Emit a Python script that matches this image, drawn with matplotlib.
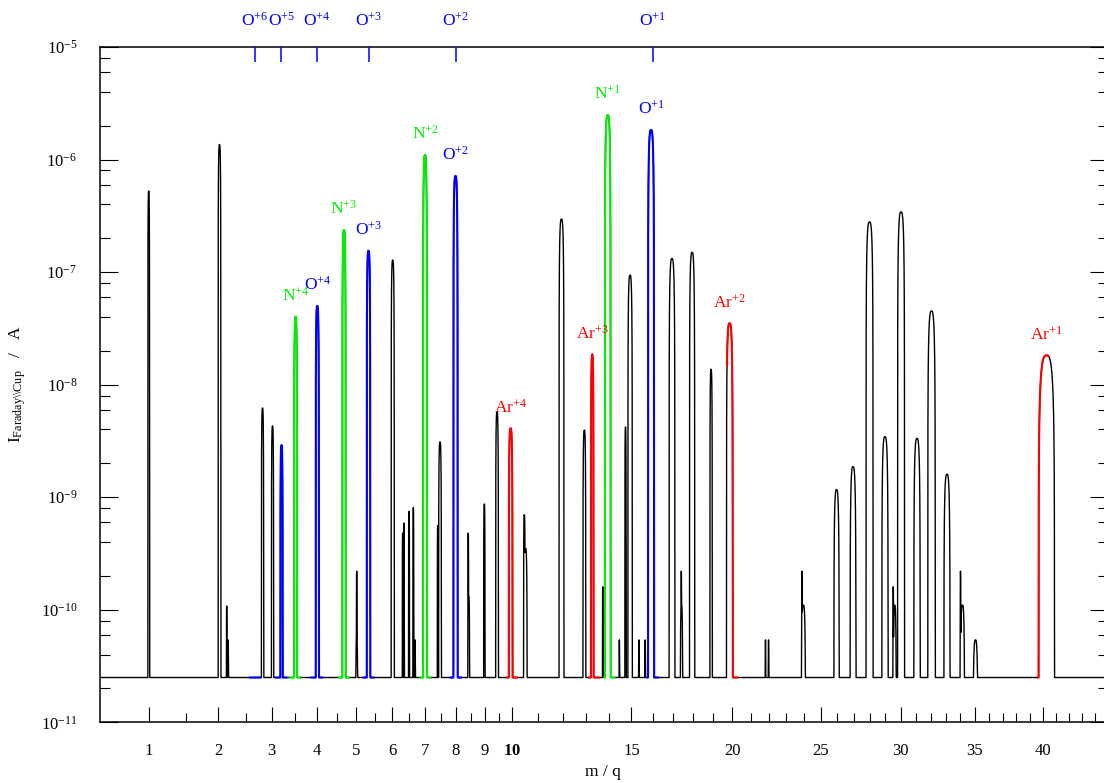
import numpy as np
import matplotlib
matplotlib.use("Agg")
import matplotlib.pyplot as plt
from matplotlib.ticker import FixedLocator, FixedFormatter, NullFormatter

# Faraday cup current vs m/q (sqrt(m/q) axis).
BASELINE = 2.5e-11

# labelled ion peaks: name, measured m/q, peak current [A], full base width in m/q
ion_names = ["N+1", "N+2", "N+3", "N+4",
             "O+1", "O+2", "O+3", "O+4", "O+5",
             "Ar+1", "Ar+2", "Ar+3", "Ar+4"]
ion_mq = [13.93, 6.994, 4.676, 3.513,
          15.92, 7.987, 5.328, 4.014, 3.206,
          40.25, 19.87, 13.25, 9.95]
ion_amp = [2.49e-6, 1.10e-6, 2.37e-7, 4.02e-8,
           1.83e-6, 7.15e-7, 1.55e-7, 5.0e-8, 2.9e-9,
           1.82e-8, 3.51e-8, 1.86e-8, 4.1e-9]
ion_fw = [0.25, 0.12, 0.085, 0.065,
          0.28, 0.14, 0.095, 0.075, 0.05,
          1.2, 0.33, 0.11, 0.14]
ion_labelled = [True, True, True, True,
                True, True, True, True, False,
                True, True, True, True]

# other (unassigned, black) peaks
other_mq = [1.0, 2.02, 2.814, 3.017, 6.014, 7.474, 9.445, 11.95, 12.91, 14.73,
            14.94, 16.93, 17.93, 18.90, 25.95, 26.96, 27.99, 28.97, 30.01, 31.06,
            32.03, 33.08]
other_amp = [5.26e-7, 1.36e-6, 6.2e-9, 4.3e-9, 1.28e-7, 3.1e-9, 5.75e-9, 2.96e-7, 3.95e-9, 4.2e-9,
             9.4e-8, 1.32e-7, 1.50e-7, 1.37e-8, 1.17e-9, 1.87e-9, 2.79e-7, 3.45e-9, 3.42e-7, 3.33e-9,
             4.51e-8, 1.6e-9]
other_fw = [0.02, 0.045, 0.045, 0.045, 0.09, 0.09, 0.10, 0.20, 0.12, 0.06,
            0.20, 0.28, 0.26, 0.12, 0.32, 0.36, 0.44, 0.40, 0.45, 0.42,
            0.50, 0.42]

# small spikes near the noise floor
spike_mq = [2.144, 2.167, 5.009, 5.009, 6.307, 6.346, 6.499, 6.631, 6.683, 7.40,
            8.42, 8.44, 8.986, 10.47, 10.52, 13.71, 14.45, 15.35, 15.64, 17.39,
            17.40, 21.82, 21.99, 23.90, 23.98, 29.50, 29.60, 34.01, 34.15, 35.06]
spike_amp = [1.08e-10, 5.4e-11, 2.2e-10, 5.4e-11, 4.8e-10, 5.9e-10, 7.5e-10, 8.1e-10, 5.4e-11, 5.6e-10,
             4.8e-10, 1.3e-10, 8.7e-10, 7.0e-10, 3.5e-10, 1.6e-10, 5.4e-11, 5.4e-11, 5.4e-11, 2.2e-10,
             1.1e-10, 5.4e-11, 5.4e-11, 2.2e-10, 1.1e-10, 1.6e-10, 1.1e-10, 2.2e-10, 1.1e-10, 5.4e-11]
spike_fw = [0.012, 0.02, 0.02, 0.06, 0.02, 0.02, 0.03, 0.03, 0.03, 0.03,
            0.03, 0.06, 0.05, 0.06, 0.12, 0.03, 0.03, 0.04, 0.04, 0.03,
            0.12, 0.04, 0.04, 0.04, 0.25, 0.05, 0.2, 0.06, 0.3, 0.35]

# colour windows around the expected m/q of each species
species = {"N": (14.0, [1, 2, 3, 4], "#00ee00"),
           "O": (16.0, [1, 2, 3, 4, 5, 6], "#0000ff"),
           "Ar": (40.0, [1, 2, 3, 4], "#ff0000")}

x_major = [1, 2, 3, 4, 5, 6, 7, 8, 9, 10, 15, 20, 25, 30, 35, 40]
x_major_labels = ["1", "2", "3", "4", "5", "6", "7", "8", "9", r"$\mathbf{10}$",
                  "15", "20", "25", "30", "35", "40"]
x_minor = [1.5, 2.5, 3.5, 4.5, 5.5, 6.5, 7.5, 8.5, 9.5,
           11, 12, 13, 14, 16, 17, 18, 19, 21, 22, 23, 24, 26, 27, 28, 29,
           31, 32, 33, 34, 36, 37, 38, 39, 41, 42, 43, 44]
y_decades = [-11, -10, -9, -8, -7, -6, -5]

XMIN, XMAX = 0.5, 45.0
WIN = 0.03  # half width of colour window in sqrt(m/q)


def fwd(x):
    return np.sqrt(np.clip(x, 0, None))


def inv(x):
    return np.square(x)


def add_peaks(grid, current, centres, amps, widths):
    for c, a, w in zip(centres, amps, widths):
        u = np.abs(grid - c) / (w / 2)
        inside = u < 1
        current[inside] = np.maximum(current[inside], a * (1 - u[inside] ** 3))


def main():
    plt.rcParams["font.family"] = ["Liberation Serif", "DejaVu Serif"]
    plt.rcParams["mathtext.fontset"] = "custom"
    plt.rcParams["mathtext.rm"] = "Liberation Serif"
    plt.rcParams["mathtext.it"] = "Liberation Serif:italic"
    plt.rcParams["mathtext.bf"] = "Liberation Serif:bold"

    s = np.linspace(np.sqrt(XMIN), np.sqrt(XMAX), 200001)
    mq = s ** 2
    cur = np.full_like(mq, BASELINE)
    add_peaks(mq, cur, other_mq, other_amp, other_fw)
    add_peaks(mq, cur, spike_mq, spike_amp, spike_fw)
    add_peaks(mq, cur, ion_mq, ion_amp, ion_fw)

    W, H = 1104, 783
    fig = plt.figure(figsize=(W / 100, H / 100), dpi=100)
    left, right, top, bottom = 99.5, 1107.7, 47.0, 722.3
    ax = fig.add_axes([left / W, 1 - bottom / H, (right - left) / W, (bottom - top) / H])

    ax.set_xscale("function", functions=(fwd, inv))
    ax.set_yscale("log")
    ax.set_xlim(XMIN, XMAX)
    ax.set_ylim(1e-11, 1e-5)

    ax.plot(mq, cur, color="black", lw=1.0)
    for mass, charges, col in species.values():
        for q in charges:
            c = np.sqrt(mass / q)
            m = np.abs(s - c) <= WIN
            ax.plot(mq[m], cur[m], color=col, lw=1.5)

    # ion labels above the peaks
    for name, x, y, lab in zip(ion_names, ion_mq, ion_amp, ion_labelled):
        if not lab:
            continue
        el, q = name.split("+")
        col = species[el][2]
        ax.annotate(r"%s$^{+%s}$" % (el, q), xy=(x, y), xytext=(0, 11.5),
                    textcoords="offset points", ha="center", va="baseline",
                    color=col, fontsize=12.5)

    # axes styling
    ax.xaxis.set_major_locator(FixedLocator(x_major))
    ax.xaxis.set_major_formatter(FixedFormatter(x_major_labels))
    ax.xaxis.set_minor_locator(FixedLocator(x_minor))
    ax.xaxis.set_minor_formatter(NullFormatter())
    ax.tick_params(axis="x", which="major", direction="in", length=11, width=0.8,
                   top=False, bottom=True, pad=15, labelsize=12)
    ax.tick_params(axis="x", which="minor", direction="in", length=6.5, width=0.8,
                   top=False, bottom=True)

    y_major = [10.0 ** d for d in y_decades]
    y_minor = [k * 10.0 ** d for d in y_decades[:-1] for k in (2, 4, 6, 8)]
    ax.yaxis.set_major_locator(FixedLocator(y_major))
    ax.yaxis.set_major_formatter(FixedFormatter([r"$\mathrm{10^{%d}}$" % d for d in y_decades]))
    ax.yaxis.set_minor_locator(FixedLocator(y_minor))
    ax.yaxis.set_minor_formatter(NullFormatter())
    ax.tick_params(axis="y", which="major", direction="in", length=13, width=0.8,
                   left=True, right=True, pad=16, labelsize=12)
    ax.tick_params(axis="y", which="minor", direction="in", length=7.2, width=0.8,
                   left=True, right=True)
    for sp in ax.spines.values():
        sp.set_linewidth(1.1)

    # oxygen charge states marked on the top axis
    o_mass, o_charges, o_col = species["O"]
    ax2 = ax.twiny()
    ax2.set_xscale("function", functions=(fwd, inv))
    ax2.set_xlim(XMIN, XMAX)
    ax2.xaxis.set_major_locator(FixedLocator([o_mass / q for q in o_charges]))
    ax2.xaxis.set_major_formatter(FixedFormatter([r"O$^{+%d}$" % q for q in o_charges]))
    ax2.xaxis.set_minor_locator(FixedLocator([]))
    ax2.tick_params(axis="x", which="major", direction="in", length=11, width=1.1,
                    colors=o_col, pad=12.5, labelsize=12.5)
    for sp in ax2.spines.values():
        sp.set_visible(False)

    fig.text(18 / W, 1 - 384.5 / H, r"I$_{\mathrm{Faraday\backslash\backslash Cup}}$   /   A",
             rotation=90, ha="center", va="center", fontsize=12.5)
    fig.text(603 / W, 1 - 772 / H, "m / q", ha="center", va="center", fontsize=12.5)

    fig.savefig("out.png", dpi=100)


if __name__ == "__main__":
    main()
